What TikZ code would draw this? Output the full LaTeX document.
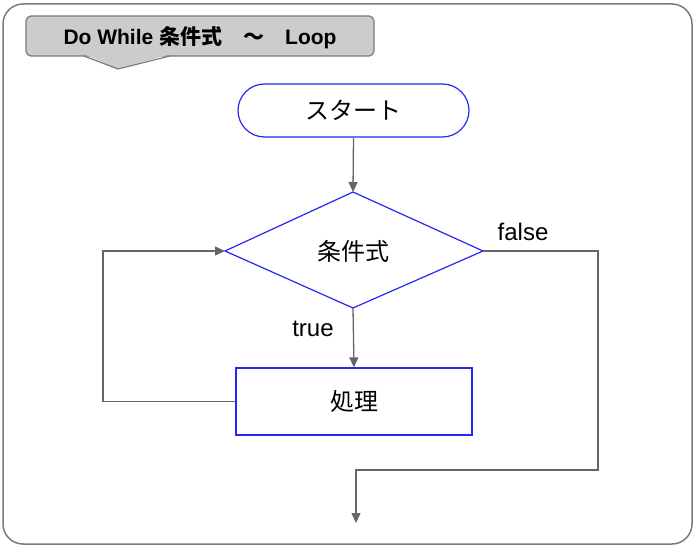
\documentclass[tikz,border=0pt]{standalone}
\usepackage{fontspec}
\setmainfont{Liberation Sans}
\newfontfamily\jp{Noto Sans CJK JP}
\usetikzlibrary{arrows.meta}
\definecolor{frame}{HTML}{7A7A7A}
\definecolor{conn}{HTML}{666666}
\definecolor{fblue}{HTML}{2626F5}
\definecolor{titlefill}{HTML}{CCCCCC}
\tikzset{
  flowbox/.style={draw=fblue, line width=1.2pt, inner sep=0pt},
  conn/.style={draw=conn, line width=1.3pt},
  arr/.style={conn, -{Triangle[length=10pt,width=9pt]}},
  lbl/.style={font=\fontsize{24}{28}\selectfont, text=black, inner sep=0pt},
  jptext/.style={font=\jp\fontsize{24}{28}\selectfont, inner sep=0pt},
}
\begin{document}
\begin{tikzpicture}[x=1pt,y=-1pt]
\useasboundingbox (0,0) rectangle (697,548);
% outer frame
\draw[frame, line width=1.5pt, rounded corners=20pt] (3,4) rectangle (692,544);
% title callout
\draw[frame, fill=titlefill, line width=1.2pt, rounded corners=5pt] (26,16) rectangle (374,56);
\fill[titlefill] (85,54.6) -- (169,54.6) -- (118,69) -- cycle;
\draw[frame, line width=1.2pt, line join=miter] (84,56) -- (118,69) -- (170,56);
\node[inner sep=0pt, font=\bfseries\fontsize{21}{24}\selectfont] (title) at (200,38)
  {Do While {\jp\bfseries 条件式　～　}Loop};
% start
\node[flowbox, rounded corners=26.5pt, minimum width=231pt, minimum height=53pt,
  font=\jp\fontsize{24}{28}\selectfont] (start) at (353.5,110.5) {スタート};
% diamond
\coordinate (dT) at (353,192);
\coordinate (dB) at (353,308);
\coordinate (dL) at (225,251);
\coordinate (dR) at (483,251);
\draw[fblue, line width=1.2pt] (dT) -- (dR) -- (dB) -- (dL) -- cycle;
\node[jptext] (cond) at (353,251) {条件式};
% process
\node[flowbox, minimum width=236pt, minimum height=67pt,
  font=\jp\fontsize{24}{28}\selectfont] (proc) at (354,401.5) {処理};
% labels
\node[lbl] (false) at (523,232) {false};
\node[lbl] (true) at (313,329) {true};
% connectors
\coordinate (e1) at (598,251);
\coordinate (e2) at (598,470);
\coordinate (e3) at (356,470);
\coordinate (endpt) at (356,523);
\coordinate (l1) at (103,401.5);
\coordinate (l2) at (103,251);
\draw[arr] (start.south) -- (dT);
\draw[arr] (dB) -- (proc.north);
\draw[arr] (proc.west) -- (l1) -- (l2) -- (dL);
\draw[arr] (dR) -- (e1) -- (e2) -- (e3) -- (endpt);
\end{tikzpicture}
\end{document}
